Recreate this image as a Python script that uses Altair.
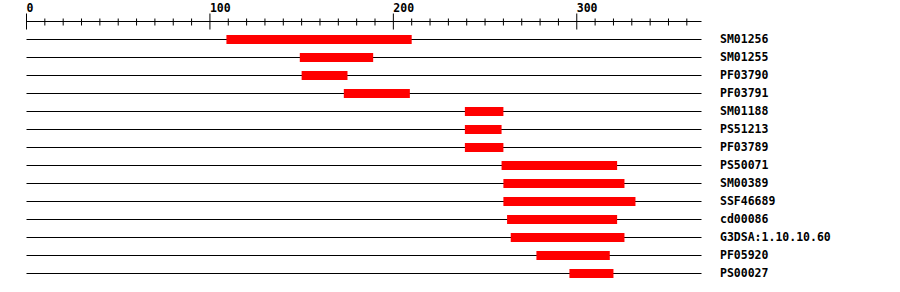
import altair as alt
import pandas as pd

names = ["SM01256", "SM01255", "PF03790", "PF03791", "SM01188", "PS51213",
         "PF03789", "PS50071", "SM00389", "SSF46689", "cd00086",
         "G3DSA:1.10.10.60", "PF05920", "PS00027"]
starts = [109, 149, 150, 173, 239, 239, 239, 259, 260, 260, 262, 264, 278, 296]
ends = [210, 189, 175, 209, 260, 259, 260, 322, 326, 332, 322, 326, 318, 320]
seq_len = 368
major_ticks = [0, 100, 200, 300]
minor_ticks = [10, 20, 30, 40, 50, 60, 70, 80, 90, 110, 120, 130, 140, 150,
               160, 170, 180, 190, 210, 220, 230, 240, 250, 260, 270, 280,
               290, 310, 320, 330, 340, 350, 360]

rows = list(range(1, len(names) + 1))
df = pd.DataFrame({"name": names, "start": starts, "end": ends, "row": rows,
                   "zero": [0] * len(names), "len": [seq_len] * len(names)})
major_df = pd.DataFrame({"t": major_ticks, "label": [str(t) for t in major_ticks]})
minor_df = pd.DataFrame({"t": minor_ticks})
axis_df = pd.DataFrame({"a": [0], "b": [seq_len], "row": [0]})

W = 675
xs = alt.Scale(domain=[0, seq_len], nice=False, zero=False, padding=0)
ys = alt.Scale(domain=[-1, 15], reverse=True, nice=False, zero=False, padding=0)
FONT = "DejaVu Sans Mono"

base_rows = alt.Chart(df)

lines = base_rows.mark_rule(color="black", strokeWidth=1).encode(
    x=alt.X("zero:Q", scale=xs, axis=None),
    x2="len:Q",
    y=alt.Y("row:Q", scale=ys, axis=None),
)

bars = base_rows.mark_bar(color="#ff0000", size=9).encode(
    x=alt.X("start:Q", scale=xs, axis=None),
    x2="end:Q",
    y=alt.Y("row:Q", scale=ys, axis=None),
)

labels = base_rows.mark_text(align="left", baseline="middle", font=FONT,
                             fontSize=11.5, fontWeight="bold", color="black").encode(
    x=alt.value(693.5),
    y=alt.Y("row:Q", scale=ys, axis=None),
    text="name:N",
)

axis_line = alt.Chart(axis_df).mark_rule(color="black", strokeWidth=1).encode(
    x=alt.X("a:Q", scale=xs, axis=None),
    x2="b:Q",
    y=alt.Y("row:Q", scale=ys, axis=None),
)

major = alt.Chart(major_df).mark_rule(color="black", strokeWidth=1).encode(
    x=alt.X("t:Q", scale=xs, axis=None),
    y=alt.value(10),
    y2=alt.value(26),
)

minor = alt.Chart(minor_df).mark_rule(color="black", strokeWidth=1).encode(
    x=alt.X("t:Q", scale=xs, axis=None),
    y=alt.value(15),
    y2=alt.value(22),
)

tick_labels = alt.Chart(major_df).mark_text(align="left", baseline="alphabetic",
                                            font=FONT, fontSize=11.5,
                                            fontWeight="bold", color="black").encode(
    x=alt.X("t:Q", scale=xs, axis=None),
    y=alt.value(8.5),
    text="label:N",
)

chart = alt.layer(lines, bars, axis_line, major, minor, tick_labels, labels).properties(
    width=W, height=288,
    autosize=alt.AutoSizeParams(type="none"),
    padding={"left": 26.5, "top": 3.5, "right": 900 - 26.5 - W, "bottom": 0.5},
    background="white",
).configure_view(stroke=None)

chart.save("out.html", embed_options={"renderer": "svg", "actions": False})
